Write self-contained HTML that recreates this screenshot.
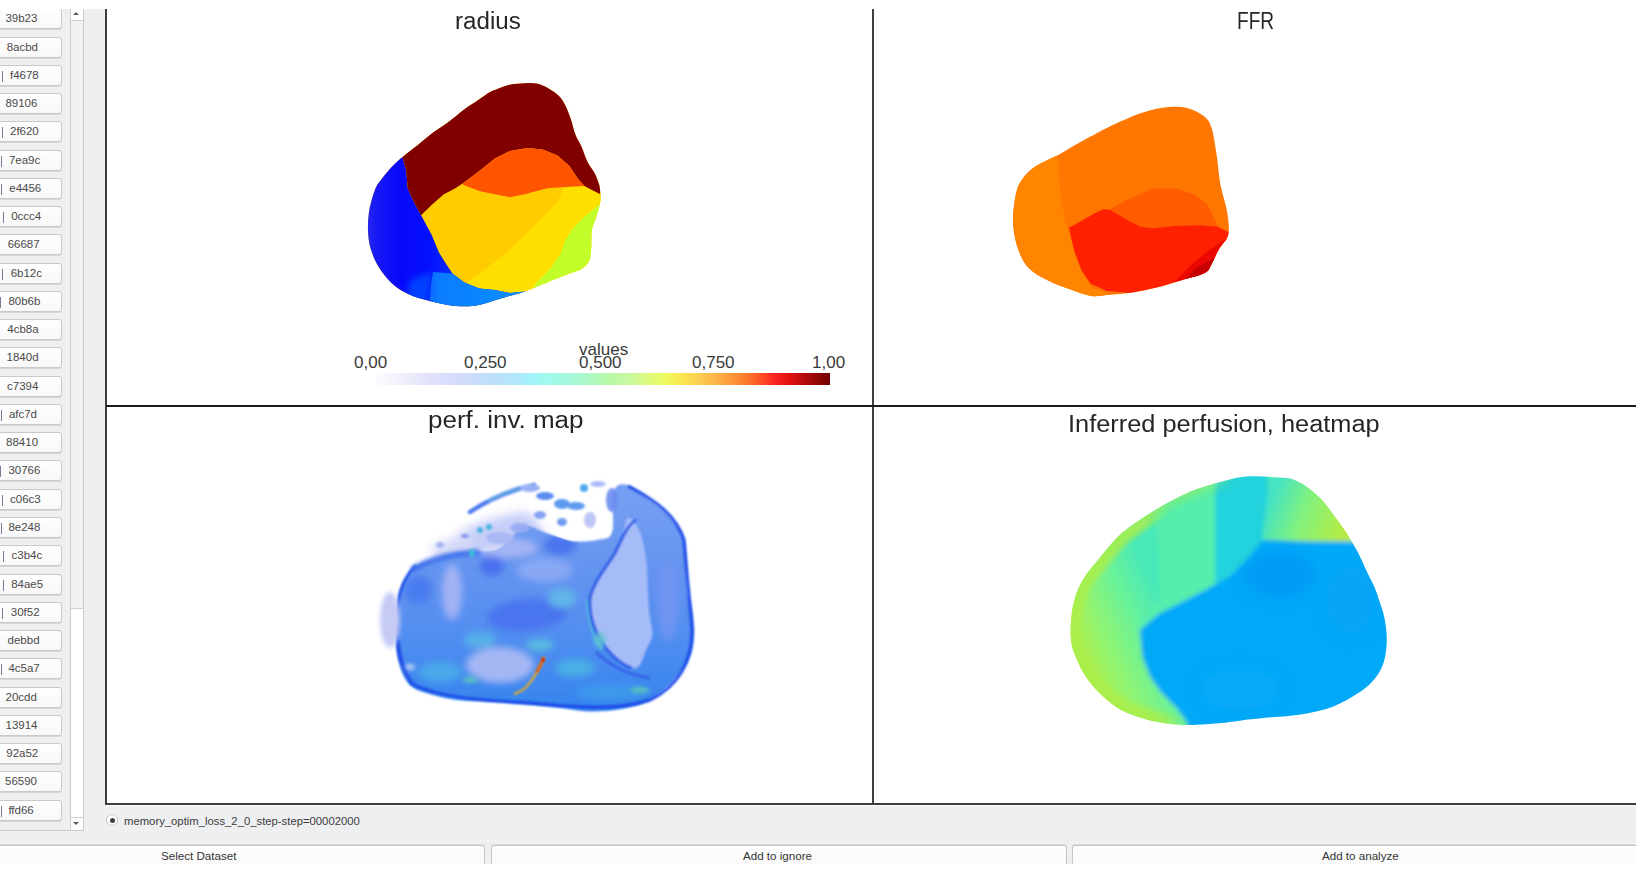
<!DOCTYPE html>
<html><head><meta charset="utf-8"><style>
*{box-sizing:border-box;margin:0;padding:0}
html,body{width:1636px;height:872px;overflow:hidden;background:#fff;font-family:"Liberation Sans",sans-serif}
#app{position:absolute;left:0;top:9px;width:1636px;height:855px;background:#eeeff1}
.sb{position:absolute;left:-40px;width:102px;height:21px;border:1px solid #c9c9cb;border-radius:3px;background:linear-gradient(#fefefe,#f8f8f8);box-shadow:0 1px 0 #d6d7d9}
.st{position:absolute;top:3px;margin-left:38.7px;font-size:11.5px;color:#4a4a4a;letter-spacing:0px;white-space:nowrap}
.bar{position:absolute;top:5px;margin-left:39px;width:1px;height:11px;background:#7a7a96}
#topw{position:absolute;left:0;top:0;width:1636px;height:9px;background:#fff;z-index:5}
#scroll{position:absolute;left:70px;top:8px;width:14px;height:823px;border:1px solid #cbcbcd;background:#fff}
#sthumb{position:absolute;left:0;top:12px;width:12px;height:588px;background:#f1f1f1;border-bottom:1px solid #cfcfcf}
#sup{position:absolute;left:0;top:0;width:12px;height:12px;background:#fff;border-bottom:1px solid #d0d0d0}
#sdn{position:absolute;left:0;bottom:0;width:12px;height:13px;background:#fff;border-top:1px solid #d0d0d0}
.tri{position:absolute;left:2px;width:0;height:0;border-left:4px solid transparent;border-right:4px solid transparent}
#panels{position:absolute;left:105px;top:9px;width:1540px;height:796px;box-shadow:0 1px 0 #fafbfc;background:#fff;border-left:2px solid #3c3c3c;border-bottom:2px solid #3c3c3c}
#vline{position:absolute;left:872px;top:9px;width:2px;height:795px;background:#3f3f3f}
#hline{position:absolute;left:106px;top:405px;width:1530px;height:2px;background:#1c1c1c}
.title{position:absolute;transform-origin:0 0;font-size:23px;color:#262626;white-space:nowrap}
.lbl{position:absolute;font-size:17px;color:#3a3a3a;white-space:nowrap}
#radio{position:absolute;left:106px;top:814px;width:12px;height:12px;border-radius:50%;background:#fff;border:1px solid #c4c4c4}
#radio::after{content:"";position:absolute;left:2.5px;top:2.5px;width:5px;height:5px;border-radius:50%;background:#3c3c3c}
#rtext{position:absolute;left:124px;top:814.5px;font-size:11.3px;color:#3c3c3c;white-space:nowrap}
.bb{position:absolute;top:845px;height:22px;border:1px solid #c6c6c8;border-top-color:#c2c2c4;box-shadow:0 -1px 0 #dcdcde;border-radius:3px;background:linear-gradient(#fefefe,#f9f9f9)}
.bt{position:absolute;top:849px;font-size:11.6px;color:#333;white-space:nowrap}
#botw{position:absolute;left:0;top:864px;width:1636px;height:8px;background:#fff;z-index:5}
svg{position:absolute;left:0;top:0}
#cbar{position:absolute;left:376px;top:373px;width:454px;height:12px;background:linear-gradient(90deg,#fafafe 0%,#f2f2fc 5%,#e2e2fc 11.6%,#d8dcfc 16.4%,#ccdcfa 21.3%,#bce0fa 26.1%,#b0e8fa 31%,#a4f2fa 34.2%,#a0faee 37.4%,#a4f8dc 42.2%,#acf8c4 47.1%,#b8f8a8 51.3%,#c8f8a0 55.7%,#eefa60 63.8%,#fce850 67%,#fcc850 71.9%,#fca640 76.7%,#fc7a2c 81.6%,#fc5024 84.8%,#fc2020 88%,#e01010 91.2%,#a00808 96%,#700000 100%)}
</style></head><body>
<div id="app"></div>
<div class="sb" style="top:8.24px"><span class="st" style="left:5.7px">39b23</span></div>
<div class="sb" style="top:36.51px"><span class="st" style="left:7.0px">8acbd</span></div>
<div class="sb" style="top:64.77px"><span class="st" style="left:10.3px">f4678</span><span class="bar" style="left:1.8px"></span></div>
<div class="sb" style="top:93.03px"><span class="st" style="left:5.7px">89106</span></div>
<div class="sb" style="top:121.30px"><span class="st" style="left:10.3px">2f620</span><span class="bar" style="left:1.8px"></span></div>
<div class="sb" style="top:149.56px"><span class="st" style="left:9.2px">7ea9c</span><span class="bar" style="left:0.5px"></span></div>
<div class="sb" style="top:177.83px"><span class="st" style="left:9.6px">e4456</span><span class="bar" style="left:0.5px"></span></div>
<div class="sb" style="top:206.10px"><span class="st" style="left:11.5px">0ccc4</span><span class="bar" style="left:2.7px"></span></div>
<div class="sb" style="top:234.36px"><span class="st" style="left:8.0px">66687</span></div>
<div class="sb" style="top:262.62px"><span class="st" style="left:11.0px">6b12c</span><span class="bar" style="left:2.3px"></span></div>
<div class="sb" style="top:290.89px"><span class="st" style="left:8.7px">80b6b</span><span class="bar" style="left:0.0px"></span></div>
<div class="sb" style="top:319.16px"><span class="st" style="left:7.6px">4cb8a</span></div>
<div class="sb" style="top:347.42px"><span class="st" style="left:6.9px">1840d</span></div>
<div class="sb" style="top:375.69px"><span class="st" style="left:7.3px">c7394</span></div>
<div class="sb" style="top:403.95px"><span class="st" style="left:9.2px">afc7d</span><span class="bar" style="left:0.5px"></span></div>
<div class="sb" style="top:432.22px"><span class="st" style="left:6.4px">88410</span></div>
<div class="sb" style="top:460.48px"><span class="st" style="left:8.7px">30766</span><span class="bar" style="left:0.2px"></span></div>
<div class="sb" style="top:488.75px"><span class="st" style="left:10.3px">c06c3</span><span class="bar" style="left:1.8px"></span></div>
<div class="sb" style="top:517.01px"><span class="st" style="left:8.7px">8e248</span><span class="bar" style="left:0.5px"></span></div>
<div class="sb" style="top:545.27px"><span class="st" style="left:11.9px">c3b4c</span><span class="bar" style="left:3.2px"></span></div>
<div class="sb" style="top:573.54px"><span class="st" style="left:11.5px">84ae5</span><span class="bar" style="left:3.2px"></span></div>
<div class="sb" style="top:601.81px"><span class="st" style="left:11.1px">30f52</span><span class="bar" style="left:2.1px"></span></div>
<div class="sb" style="top:630.07px"><span class="st" style="left:7.9px">debbd</span></div>
<div class="sb" style="top:658.34px"><span class="st" style="left:8.7px">4c5a7</span><span class="bar" style="left:0.5px"></span></div>
<div class="sb" style="top:686.60px"><span class="st" style="left:5.8px">20cdd</span></div>
<div class="sb" style="top:714.87px"><span class="st" style="left:5.8px">13914</span></div>
<div class="sb" style="top:743.13px"><span class="st" style="left:6.6px">92a52</span></div>
<div class="sb" style="top:771.39px"><span class="st" style="left:5.3px">56590</span></div>
<div class="sb" style="top:799.66px"><span class="st" style="left:8.7px">ffd66</span><span class="bar" style="left:0.5px"></span></div>
<div style="position:absolute;left:0;top:830px;width:71px;height:1px;background:#cbcbcd"></div>
<div id="scroll"><div id="sthumb"></div><div id="sup"><div class="tri" style="top:2.8px;left:2px;border-left:3.5px solid transparent;border-right:3.5px solid transparent;border-bottom:3.5px solid #5a5a5a"></div></div><div id="sdn"><div class="tri" style="top:4px;left:2px;border-left:3.5px solid transparent;border-right:3.5px solid transparent;border-top:3.5px solid #5a5a5a"></div></div></div>
<div id="panels"></div>
<svg width="1636" height="872" viewBox="0 0 1636 872">
<defs><filter id="rsoft" x="-30%" y="-30%" width="160%" height="160%"><feGaussianBlur stdDeviation="3"/></filter><clipPath id="rc"><path d="M402.5,157.0 C406.1,154.1 414.3,147.8 419.6,143.6 C424.9,139.4 429.5,135.3 434.5,131.6 C439.5,127.9 444.4,124.9 449.4,121.2 C454.4,117.5 459.7,112.8 464.4,109.3 C469.1,105.8 473.5,103.2 477.8,100.3 C482.1,97.4 487.1,93.8 490.0,92.1 C492.9,90.4 491.6,91.1 494.9,89.9 C498.2,88.7 504.8,85.8 509.8,84.7 C514.8,83.6 520.2,83.4 524.7,83.2 C529.2,83.0 532.6,82.7 536.6,83.6 C540.6,84.5 544.9,86.4 548.6,88.4 C552.3,90.5 556.3,93.2 559.0,95.9 C561.7,98.6 563.0,100.8 565.0,104.8 C567.0,108.8 569.3,114.7 571.0,119.7 C572.7,124.7 573.7,130.1 575.4,134.6 C577.1,139.1 579.4,142.1 581.4,146.6 C583.4,151.1 585.1,157.0 587.3,161.5 C589.5,166.0 592.8,169.4 594.8,173.4 C596.8,177.4 598.4,181.8 599.3,185.3 C600.2,188.8 600.1,191.5 600.3,194.3 C600.5,197.1 601.0,198.2 600.3,201.9 C599.6,205.7 597.7,212.1 596.3,216.8 C594.9,221.5 592.7,224.8 591.8,230.3 C590.9,235.8 591.6,244.4 591.1,249.6 C590.6,254.8 590.4,258.4 588.8,261.6 C587.2,264.8 584.6,267.0 581.4,269.0 C578.2,271.0 575.1,271.3 569.4,273.5 C563.7,275.7 554.5,279.4 547.1,282.4 C539.7,285.4 530.9,289.2 524.7,291.4 C518.5,293.6 514.8,294.3 509.8,295.8 C504.8,297.3 499.9,298.8 494.9,300.3 C489.9,301.8 485.1,303.8 480.0,304.8 C474.9,305.8 470.0,306.3 464.4,306.3 C458.8,306.3 452.7,305.8 446.5,304.8 C440.3,303.8 433.3,302.0 427.1,300.3 C420.9,298.6 414.7,296.9 409.2,294.4 C403.7,291.9 399.0,289.4 394.3,285.4 C389.6,281.4 384.6,276.0 380.9,270.5 C377.2,265.0 374.0,258.6 371.9,252.6 C369.8,246.6 368.7,241.4 368.2,234.7 C367.7,228.0 367.8,219.8 368.9,212.4 C370.0,205.0 372.8,195.5 374.9,190.0 C377.0,184.5 378.9,182.8 381.4,179.3 C383.9,175.8 387.1,171.9 389.8,168.9 C392.5,165.9 395.6,163.2 397.7,161.2 C399.8,159.2 398.9,159.9 402.5,157.0 Z"/></clipPath>
<linearGradient id="rbg" gradientUnits="userSpaceOnUse" x1="366" y1="0" x2="450" y2="0"><stop offset="0" stop-color="#2a2af0"/><stop offset="0.12" stop-color="#1818f4"/><stop offset="0.4" stop-color="#0808fa"/><stop offset="0.75" stop-color="#0410fe"/><stop offset="1" stop-color="#0428ff"/></linearGradient>
<linearGradient id="rlb" gradientUnits="userSpaceOnUse" x1="428" y1="0" x2="520" y2="0"><stop offset="0" stop-color="#0a66ff"/><stop offset="0.12" stop-color="#0a7cff"/><stop offset="0.6" stop-color="#0a86ff"/><stop offset="1" stop-color="#0c90ff"/></linearGradient>
</defs>
<g clip-path="url(#rc)">
<rect x="360" y="80" width="250" height="230" fill="#ffcc00"/>
<polygon points="563.0,186.5 600.0,180.0 620.0,190.0 620.0,320.0 460.0,320.0 467.3,281.0 480.0,273.5 494.9,261.6 509.8,249.6 524.7,234.7 539.6,219.8 556.0,203.4 560.5,196.0" fill="#ffdf00"/>
<polygon points="600.3,203.4 584.4,216.8 572.4,228.8 565.0,240.7 560.5,254.1 550.0,269.0 536.6,282.4 528.0,296.0 620.0,300.0 620.0,195.0" fill="#c4fe2a"/>
<polygon points="395.0,145.0 402.5,157.0 406.2,170.4 407.7,188.3 413.7,201.7 421.1,215.3 431.6,234.7 439.0,252.6 446.5,264.5 452.4,273.5 464.4,282.4 479.3,288.4 494.9,289.9 509.8,292.9 530.0,291.0 540.0,320.0 350.0,320.0 350.0,145.0" fill="url(#rbg)"/>
<polygon points="410,280 433,272 431,285 429,310 405,305" fill="#0440ff" filter="url(#rsoft)"/>
<polygon points="433.0,272.0 431.0,285.0 429.0,310.0 540.0,310.0 530.0,291.0 509.8,292.9 494.9,289.9 479.3,288.4 464.4,282.4 452.4,273.5" fill="url(#rlb)"/>
<polygon points="390.0,150.0 395.0,70.0 620.0,70.0 620.0,200.0 600.3,194.3 592.0,190.0 584.4,186.1 578.4,179.4 569.4,166.0 557.5,155.5 542.6,149.5 527.7,148.0 509.8,151.0 494.9,158.5 480.0,170.4 464.4,182.3 455.4,188.3 443.5,194.5 431.6,204.9 421.1,215.3 413.7,201.7 407.7,188.3 406.2,170.4 402.5,157.0" fill="#800000"/>
<polygon points="462.0,184.0 480.0,170.4 494.9,158.5 509.8,151.0 527.7,148.0 542.6,149.5 557.5,155.5 569.4,166.0 578.4,179.4 584.4,186.1 569.4,186.8 547.1,188.3 524.7,194.3 509.8,197.2 494.9,194.3 480.0,191.3 466.0,186.0" fill="#ff5500"/>
</g>
<defs><clipPath id="fc"><path d="M1057.8,155.2 C1062.2,152.9 1065.8,150.4 1072.2,146.8 C1078.6,143.2 1088.3,137.7 1096.3,133.5 C1104.3,129.3 1112.4,125.1 1120.4,121.5 C1128.4,117.9 1136.4,114.3 1144.4,111.9 C1152.4,109.5 1161.3,107.6 1168.5,107.0 C1175.7,106.4 1181.8,106.6 1187.8,108.2 C1193.8,109.8 1200.6,113.3 1204.6,116.7 C1208.6,120.1 1209.8,122.3 1211.8,128.7 C1213.8,135.1 1215.3,146.0 1216.7,155.2 C1218.1,164.4 1218.7,175.3 1220.3,184.1 C1221.9,192.9 1224.9,201.3 1226.3,208.1 C1227.7,214.9 1228.5,220.2 1228.7,225.0 C1228.9,229.8 1229.1,233.0 1227.5,237.0 C1225.9,241.0 1221.6,244.6 1219.0,249.0 C1216.4,253.4 1214.2,259.5 1211.8,263.5 C1209.4,267.5 1209.8,270.3 1204.6,273.1 C1199.4,275.9 1188.5,278.0 1180.5,280.4 C1172.5,282.8 1164.5,285.6 1156.5,287.6 C1148.5,289.6 1140.4,291.2 1132.4,292.4 C1124.4,293.6 1115.1,294.2 1108.3,294.8 C1101.5,295.4 1097.5,296.8 1091.5,296.0 C1085.5,295.2 1079.4,292.6 1072.2,290.0 C1065.0,287.4 1055.3,284.0 1048.1,280.4 C1040.9,276.8 1033.9,273.5 1028.9,268.3 C1023.9,263.1 1020.7,256.3 1018.1,249.1 C1015.5,241.9 1013.8,232.6 1013.2,225.0 C1012.6,217.4 1013.4,210.1 1014.4,203.3 C1015.4,196.5 1016.5,189.7 1019.3,184.1 C1022.1,178.5 1026.8,173.5 1031.3,169.6 C1035.8,165.7 1041.7,163.2 1046.1,160.8 C1050.5,158.4 1053.4,157.5 1057.8,155.2 Z"/></clipPath></defs>
<g clip-path="url(#fc)">
<rect x="1005" y="100" width="230" height="200" fill="#ff7600"/>
<polygon points="1057.8,155.2 1060.2,191.3 1065.0,220.2 1072.2,244.3 1081.8,273.1 1092.0,288.0 1112.0,295.0 1135.0,300.0 1000.0,300.0 1000.0,150.0" fill="#ff8400"/>
<polygon points="1109.5,209.3 1127.8,199.6 1152.2,188.6 1176.7,188.6 1195.0,194.7 1207.3,204.4 1213.4,216.7 1218.3,226.5 1201.0,225.2 1176.7,225.8 1152.2,228.3 1140.0,226.5 1127.8,220.3 1115.6,213.0" fill="#ff5c00"/>
<polygon points="1069.0,227.7 1082.6,220.3 1095.0,213.0 1103.3,209.3 1109.5,209.8 1115.6,213.0 1127.8,220.3 1140.0,226.5 1152.2,228.3 1176.7,225.8 1201.0,225.2 1217.0,226.5 1230.0,232.6 1235.0,300.0 1140.0,300.0 1126.0,292.6 1107.0,291.0 1090.6,283.8 1081.3,269.8 1074.3,251.2" fill="#ff2000"/>
<polygon points="1235.0,234.0 1221.0,242.0 1209.4,250.0 1192.6,263.5 1173.3,283.0 1235.0,290.0" fill="#ea0800"/>
<polygon points="1214.0,258.0 1196.0,268.0 1182.0,282.0 1215.0,282.0" fill="#c80000"/>
</g>
<defs>
<filter id="pb" x="-10%" y="-10%" width="120%" height="120%"><feGaussianBlur stdDeviation="1.3"/></filter>
<filter id="pb2" x="-30%" y="-30%" width="160%" height="160%"><feGaussianBlur stdDeviation="3.5"/></filter>
<filter id="pb3" x="-30%" y="-30%" width="160%" height="160%"><feGaussianBlur stdDeviation="2"/></filter>
<filter id="pb4" x="-30%" y="-30%" width="160%" height="160%"><feGaussianBlur stdDeviation="5"/></filter>
<clipPath id="pcl"><path d="M397.0,605.0 C397.7,597.4 398.5,593.7 400.0,589.0 C401.5,584.3 403.6,580.7 406.0,577.0 C408.4,573.3 409.0,570.1 414.7,566.9 C420.4,563.7 432.5,560.2 440.0,558.0 C447.5,555.8 452.8,554.5 459.5,553.5 C466.2,552.5 473.8,552.5 480.0,552.0 C486.2,551.5 491.8,552.5 496.8,550.5 C501.8,548.5 506.3,543.5 510.0,540.0 C513.7,536.5 515.7,531.8 519.0,529.6 C522.3,527.4 525.7,526.2 530.0,526.7 C534.3,527.2 540.0,530.7 545.0,532.6 C550.0,534.5 555.0,536.5 560.0,538.0 C565.0,539.5 568.5,541.3 574.7,541.6 C580.9,541.9 590.8,541.5 597.0,540.0 C603.2,538.5 609.2,540.5 612.0,532.6 C614.8,524.7 611.0,500.3 613.5,492.4 C616.0,484.5 620.3,483.3 627.0,485.0 C633.7,486.7 646.3,497.1 653.8,502.8 C661.2,508.5 666.7,513.5 671.7,519.2 C676.7,524.9 681.1,530.4 683.6,537.1 C686.1,543.8 685.9,550.7 686.6,559.5 C687.3,568.3 687.0,581.2 688.0,590.0 C689.0,598.8 691.5,604.9 692.5,612.4 C693.5,619.9 694.2,627.8 694.0,634.7 C693.8,641.7 693.0,648.1 691.0,654.1 C689.0,660.1 686.1,665.0 682.1,670.5 C678.1,676.0 673.2,681.7 667.2,686.9 C661.2,692.1 654.2,698.1 646.3,701.8 C638.3,705.5 629.0,707.7 619.5,709.3 C610.0,710.9 599.6,711.8 589.6,711.5 C579.6,711.2 569.7,708.9 559.8,707.8 C549.9,706.7 541.8,705.8 530.0,704.8 C518.2,703.8 501.1,702.5 489.3,701.8 C477.6,701.0 468.2,701.3 459.5,700.3 C450.8,699.3 444.6,697.9 437.1,695.9 C429.6,693.9 420.2,691.5 414.7,688.4 C409.2,685.2 406.8,682.1 404.0,677.0 C401.2,671.9 399.3,665.0 398.0,658.0 C396.7,651.0 396.2,643.5 396.0,634.7 C395.8,625.9 396.3,612.6 397.0,605.0 Z"/></clipPath>
<linearGradient id="pgv" x1="0" y1="0" x2="0" y2="1"><stop offset="0" stop-color="#76a0f2"/><stop offset="0.45" stop-color="#6092f0"/><stop offset="0.75" stop-color="#4a8cf0"/><stop offset="1" stop-color="#3484ee"/></linearGradient>
</defs>
<g filter="url(#pb4)" opacity="0.75">
<path d="M455,535 C475,522 500,515 525,512 C535,515 540,525 545,535 L540,545 L470,556 Z" fill="#b4bef6"/>
<path d="M430,548 C445,540 460,535 470,532 L472,556 L440,562 Z" fill="#c8cef6"/>
</g>
<g filter="url(#pb)">
<path d="M397.0,605.0 C397.7,597.4 398.5,593.7 400.0,589.0 C401.5,584.3 403.6,580.7 406.0,577.0 C408.4,573.3 409.0,570.1 414.7,566.9 C420.4,563.7 432.5,560.2 440.0,558.0 C447.5,555.8 452.8,554.5 459.5,553.5 C466.2,552.5 473.8,552.5 480.0,552.0 C486.2,551.5 491.8,552.5 496.8,550.5 C501.8,548.5 506.3,543.5 510.0,540.0 C513.7,536.5 515.7,531.8 519.0,529.6 C522.3,527.4 525.7,526.2 530.0,526.7 C534.3,527.2 540.0,530.7 545.0,532.6 C550.0,534.5 555.0,536.5 560.0,538.0 C565.0,539.5 568.5,541.3 574.7,541.6 C580.9,541.9 590.8,541.5 597.0,540.0 C603.2,538.5 609.2,540.5 612.0,532.6 C614.8,524.7 611.0,500.3 613.5,492.4 C616.0,484.5 620.3,483.3 627.0,485.0 C633.7,486.7 646.3,497.1 653.8,502.8 C661.2,508.5 666.7,513.5 671.7,519.2 C676.7,524.9 681.1,530.4 683.6,537.1 C686.1,543.8 685.9,550.7 686.6,559.5 C687.3,568.3 687.0,581.2 688.0,590.0 C689.0,598.8 691.5,604.9 692.5,612.4 C693.5,619.9 694.2,627.8 694.0,634.7 C693.8,641.7 693.0,648.1 691.0,654.1 C689.0,660.1 686.1,665.0 682.1,670.5 C678.1,676.0 673.2,681.7 667.2,686.9 C661.2,692.1 654.2,698.1 646.3,701.8 C638.3,705.5 629.0,707.7 619.5,709.3 C610.0,710.9 599.6,711.8 589.6,711.5 C579.6,711.2 569.7,708.9 559.8,707.8 C549.9,706.7 541.8,705.8 530.0,704.8 C518.2,703.8 501.1,702.5 489.3,701.8 C477.6,701.0 468.2,701.3 459.5,700.3 C450.8,699.3 444.6,697.9 437.1,695.9 C429.6,693.9 420.2,691.5 414.7,688.4 C409.2,685.2 406.8,682.1 404.0,677.0 C401.2,671.9 399.3,665.0 398.0,658.0 C396.7,651.0 396.2,643.5 396.0,634.7 C395.8,625.9 396.3,612.6 397.0,605.0 Z" fill="url(#pgv)"/>
</g>
<g clip-path="url(#pcl)">
<g filter="url(#pb2)">
<ellipse cx="452" cy="592" rx="10" ry="28" fill="#a2b2f4"/>
<ellipse cx="545" cy="570" rx="28" ry="12" fill="#88a8f4"/>
<ellipse cx="508" cy="548" rx="30" ry="10" fill="#a4b4f4"/>
<ellipse cx="560" cy="545" rx="16" ry="10" fill="#4a74ee"/>
<ellipse cx="500" cy="665" rx="34" ry="18" fill="#a4b6f4"/>
<ellipse cx="527" cy="615" rx="40" ry="16" fill="#4874ee" transform="rotate(-5 527 615)"/>
<ellipse cx="492" cy="566" rx="12" ry="10" fill="#4870ee"/>
<ellipse cx="418" cy="590" rx="14" ry="14" fill="#4a7cee"/>
<ellipse cx="440" cy="672" rx="22" ry="10" fill="#4aa8ea"/>
<ellipse cx="575" cy="668" rx="20" ry="9" fill="#4aaee6"/>
<ellipse cx="610" cy="692" rx="34" ry="8" fill="#3e98ec"/>
<ellipse cx="668" cy="600" rx="11" ry="42" fill="#6e94f2"/>
<ellipse cx="562" cy="598" rx="14" ry="10" fill="#60b6e8"/>
<ellipse cx="480" cy="640" rx="16" ry="8" fill="#58b0e8"/>
<ellipse cx="540" cy="645" rx="14" ry="6" fill="#5cbce0"/>
</g>
</g>
<g filter="url(#pb)">
<path d="M398,640 C399,655 403,670 412,684 C440,698 480,700 530,703 C580,708 620,710 650,700 C680,685 692,660 692,630 C690,600 686,570 684,540 C676,515 655,500 628,486" fill="none" stroke="#1c48e8" stroke-width="3"/>
<path d="M416,565 C406,575 400,588 398,605 C396,625 396,645 400,660 C404,672 410,682 418,688" fill="none" stroke="#2450e8" stroke-width="2.5"/>
<path d="M627.0,519.0 C624.6,522.8 623.2,536.6 619.5,544.6 C615.8,552.6 609.1,560.0 604.6,567.0 C600.1,574.0 595.1,580.8 592.6,586.3 C590.1,591.8 590.1,595.6 589.6,600.0 C589.1,604.4 588.4,607.1 589.6,612.4 C590.9,617.7 593.4,624.6 597.1,631.8 C600.8,639.0 607.0,649.6 612.0,655.6 C617.0,661.6 622.4,665.8 626.9,667.5 C631.4,669.2 635.7,669.1 638.9,666.1 C642.1,663.1 644.1,654.8 646.3,649.6 C648.5,644.4 651.8,640.9 652.3,634.7 C652.8,628.5 650.0,619.9 649.3,612.4 C648.5,604.9 648.3,598.7 647.8,590.0 C647.3,581.3 647.4,569.2 646.3,560.0 C645.2,550.8 643.0,541.3 641.0,535.0 C639.0,528.7 636.3,524.7 634.0,522.0 C631.7,519.3 629.4,515.2 627.0,519.0 Z" fill="#a6bcf8"/>
<path d="M636,520 C626,526 622,540 614,555 C604,570 594,582 590,598 C589,615 594,632 606,648 C614,658 622,665 632,668" fill="none" stroke="#2c5ce6" stroke-width="3"/>
<path d="M587,600 C587,620 592,636 602,650" fill="none" stroke="#50c0d8" stroke-width="1.5"/>
<path d="M596,652 C610,666 628,675 650,678" fill="none" stroke="#3464e8" stroke-width="3"/>
</g>
<g filter="url(#pb3)">
<ellipse cx="390" cy="620" rx="10" ry="28" fill="#c6cbf6"/>
<path d="M412,570 C430,558 455,553 480,552" stroke="#3468ec" stroke-width="5" fill="none"/>
</g>
<g filter="url(#pb)" opacity="0.9">
<path d="M470,512 Q500,492 534,485" stroke="#3a6aee" stroke-width="4.5" stroke-linecap="round" fill="none"/><path d="M488,501 Q505,492 522,488" stroke="#50b8d8" stroke-width="1.5" fill="none"/>
<ellipse cx="545" cy="496" rx="9" ry="4" fill="#4a80ee"/>
<ellipse cx="562" cy="504" rx="8" ry="5" fill="#4a90ee"/>
<ellipse cx="584" cy="488" rx="4" ry="4" fill="#40a0e8"/>
<ellipse cx="576" cy="506" rx="9" ry="4" fill="#5090ee"/>
<ellipse cx="562" cy="522" rx="5" ry="4" fill="#6090ee"/>
<ellipse cx="540" cy="515" rx="6" ry="4" fill="#7c98f2"/>
<ellipse cx="520" cy="528" rx="10" ry="5" fill="#98aaf4"/>
<ellipse cx="500" cy="538" rx="14" ry="6" fill="#a8b6f4"/>
<ellipse cx="465" cy="536" rx="4" ry="2" fill="#8090f0"/>
<ellipse cx="472" cy="553" rx="3" ry="4" fill="#40c0d8"/>
<ellipse cx="530" cy="488" rx="10" ry="4" fill="#90a8f4"/>
<ellipse cx="598" cy="484" rx="8" ry="3" fill="#a8b4f6"/>
<ellipse cx="590" cy="520" rx="6" ry="8" fill="#b8c0f6"/>
<ellipse cx="440" cy="545" rx="4" ry="3" fill="#a0b0f4"/>
<ellipse cx="612" cy="500" rx="6" ry="12" fill="#6c8cf0"/>
<ellipse cx="480" cy="530" rx="3" ry="3" fill="#40b0e0"/>
<ellipse cx="489" cy="527" rx="3" ry="3" fill="#40b0e0"/>
</g>
<g filter="url(#pb3)" opacity="0.8">
<ellipse cx="410" cy="667" rx="5" ry="3" fill="#e0e4f8"/>
<ellipse cx="470" cy="680" rx="8" ry="3" fill="#60d0b0"/>
<ellipse cx="640" cy="690" rx="10" ry="3" fill="#60d0b0"/>
<ellipse cx="600" cy="640" rx="6" ry="8" fill="#60c8d0"/>
</g>
<path d="M544,657 C541,666 535,676 529,684 C525,689 520,692 514,694" stroke="#d8a838" stroke-width="2.4" fill="none" filter="url(#pb)"/>
<path d="M544,657 C542,663 539,668 536,673" stroke="#d85828" stroke-width="2.4" fill="none" filter="url(#pb)"/>
<circle cx="543" cy="660" r="2" fill="#c03018" filter="url(#pb)"/>

<defs><clipPath id="hc"><path d="M1244.4,476.7 C1254.7,475.7 1268.8,477.0 1276.8,477.4 C1284.8,477.8 1286.8,477.2 1292.1,479.0 C1297.4,480.8 1303.5,484.4 1308.5,487.9 C1313.5,491.4 1317.9,495.6 1321.9,499.8 C1325.9,504.0 1328.7,508.2 1332.4,513.2 C1336.1,518.2 1341.1,524.9 1344.3,529.6 C1347.5,534.3 1349.2,537.4 1351.7,541.6 C1354.2,545.8 1356.7,550.0 1359.2,555.0 C1361.7,560.0 1364.2,566.2 1366.7,571.4 C1369.2,576.6 1371.9,581.2 1374.1,586.3 C1376.2,591.3 1377.9,596.4 1379.6,601.7 C1381.3,607.0 1383.3,611.6 1384.5,618.2 C1385.7,624.8 1387.1,633.6 1386.8,641.4 C1386.5,649.1 1385.4,658.0 1382.9,664.7 C1380.5,671.4 1376.5,676.8 1372.1,681.7 C1367.7,686.6 1363.0,690.0 1356.6,694.1 C1350.1,698.2 1342.4,703.1 1333.4,706.5 C1324.4,709.9 1312.7,712.4 1302.4,714.2 C1292.1,716.0 1280.4,716.4 1271.4,717.3 C1262.4,718.2 1255.9,718.7 1248.2,719.6 C1240.5,720.5 1234.9,721.8 1225.0,722.7 C1215.1,723.6 1197.5,724.8 1188.9,725.1 C1180.3,725.4 1179.9,725.1 1173.4,724.3 C1167.0,723.5 1158.0,722.3 1150.2,720.4 C1142.5,718.5 1133.4,715.5 1126.9,712.7 C1120.4,709.9 1116.6,707.3 1111.4,703.4 C1106.2,699.5 1100.4,694.0 1096.0,689.4 C1091.6,684.8 1088.5,680.9 1085.1,675.5 C1081.7,670.1 1078.1,662.6 1075.8,656.9 C1073.5,651.2 1072.0,647.8 1071.2,641.4 C1070.4,635.0 1070.5,625.8 1071.2,618.2 C1071.9,610.6 1073.4,602.7 1075.5,596.0 C1077.6,589.3 1080.4,583.8 1084.0,578.0 C1087.6,572.2 1090.9,568.5 1097.2,561.0 C1103.5,553.5 1112.6,541.4 1121.9,533.1 C1131.2,524.9 1142.6,518.0 1152.9,511.5 C1163.2,505.1 1173.6,499.0 1183.9,494.4 C1194.2,489.8 1204.7,486.6 1214.8,483.6 C1224.9,480.7 1234.1,477.7 1244.4,476.7 Z"/></clipPath>
<filter id="hmb" x="-20%" y="-20%" width="140%" height="140%"><feGaussianBlur stdDeviation="8"/></filter><mask id="hleft" maskUnits="userSpaceOnUse" x="1000" y="440" width="420" height="320"><polygon points="1040,440 1225,440 1225,478 1160,505 1138,625 1140,660 1158,700 1185,740 1040,740" fill="#fff" filter="url(#hmb)"/></mask>
<filter id="hb" x="-10%" y="-10%" width="120%" height="120%"><feGaussianBlur stdDeviation="2.5"/></filter>
<filter id="hb6" x="-30%" y="-30%" width="160%" height="160%"><feGaussianBlur stdDeviation="7"/></filter>
<filter id="hb1" x="-10%" y="-10%" width="120%" height="120%"><feGaussianBlur stdDeviation="2.2"/></filter>
<linearGradient id="hgl" gradientUnits="userSpaceOnUse" x1="1072" y1="640" x2="1160" y2="600"><stop offset="0" stop-color="#b0ee48"/><stop offset="0.3" stop-color="#92f470"/><stop offset="0.7" stop-color="#66f29c"/><stop offset="1" stop-color="#4ae8b8"/></linearGradient>
<linearGradient id="hyg" gradientUnits="userSpaceOnUse" x1="1270" y1="500" x2="1345" y2="530"><stop offset="0" stop-color="#44e2c4"/><stop offset="0.45" stop-color="#82f27c"/><stop offset="1" stop-color="#b6ea42"/></linearGradient>
</defs>
<g clip-path="url(#hc)">
<g filter="url(#hb1)">
<rect x="1060" y="470" width="340" height="260" fill="url(#hgl)"/>
<polygon points="1155.0,505.0 1215.0,470.0 1215.0,600.0 1160.0,613.0 1140.0,630.0 1140.0,620.0 1160.0,600.0 1160.0,560.0" fill="#56eeac"/>
<polygon points="1215.0,470.0 1268.0,470.0 1268.0,492.0 1262.3,540.1 1250.0,556.0 1230.3,576.0 1215.0,584.0" fill="#22d2dc"/>
<polygon points="1276.0,470.0 1268.2,492.4 1262.3,540.1 1314.5,541.6 1356.0,541.6 1356.0,470.0" fill="url(#hyg)"/>
<polygon points="1140.0,630.0 1160.0,613.0 1183.9,601.0 1205.0,590.0 1230.3,576.0 1250.0,556.0 1262.3,540.1 1314.5,541.6 1355.0,541.6 1400.0,541.0 1400.0,740.0 1187.3,730.0 1187.3,723.5 1176.5,708.0 1161.0,692.5 1150.2,677.1 1142.4,656.9 1140.9,641.4" fill="#06a8f8"/>
</g>
<g mask="url(#hleft)"><path d="M1244.4,476.7 C1254.7,475.7 1268.8,477.0 1276.8,477.4 C1284.8,477.8 1286.8,477.2 1292.1,479.0 C1297.4,480.8 1303.5,484.4 1308.5,487.9 C1313.5,491.4 1317.9,495.6 1321.9,499.8 C1325.9,504.0 1328.7,508.2 1332.4,513.2 C1336.1,518.2 1341.1,524.9 1344.3,529.6 C1347.5,534.3 1349.2,537.4 1351.7,541.6 C1354.2,545.8 1356.7,550.0 1359.2,555.0 C1361.7,560.0 1364.2,566.2 1366.7,571.4 C1369.2,576.6 1371.9,581.2 1374.1,586.3 C1376.2,591.3 1377.9,596.4 1379.6,601.7 C1381.3,607.0 1383.3,611.6 1384.5,618.2 C1385.7,624.8 1387.1,633.6 1386.8,641.4 C1386.5,649.1 1385.4,658.0 1382.9,664.7 C1380.5,671.4 1376.5,676.8 1372.1,681.7 C1367.7,686.6 1363.0,690.0 1356.6,694.1 C1350.1,698.2 1342.4,703.1 1333.4,706.5 C1324.4,709.9 1312.7,712.4 1302.4,714.2 C1292.1,716.0 1280.4,716.4 1271.4,717.3 C1262.4,718.2 1255.9,718.7 1248.2,719.6 C1240.5,720.5 1234.9,721.8 1225.0,722.7 C1215.1,723.6 1197.5,724.8 1188.9,725.1 C1180.3,725.4 1179.9,725.1 1173.4,724.3 C1167.0,723.5 1158.0,722.3 1150.2,720.4 C1142.5,718.5 1133.4,715.5 1126.9,712.7 C1120.4,709.9 1116.6,707.3 1111.4,703.4 C1106.2,699.5 1100.4,694.0 1096.0,689.4 C1091.6,684.8 1088.5,680.9 1085.1,675.5 C1081.7,670.1 1078.1,662.6 1075.8,656.9 C1073.5,651.2 1072.0,647.8 1071.2,641.4 C1070.4,635.0 1070.5,625.8 1071.2,618.2 C1071.9,610.6 1073.4,602.7 1075.5,596.0 C1077.6,589.3 1080.4,583.8 1084.0,578.0 C1087.6,572.2 1090.9,568.5 1097.2,561.0 C1103.5,553.5 1112.6,541.4 1121.9,533.1 C1131.2,524.9 1142.6,518.0 1152.9,511.5 C1163.2,505.1 1173.6,499.0 1183.9,494.4 C1194.2,489.8 1204.7,486.6 1214.8,483.6 C1224.9,480.7 1234.1,477.7 1244.4,476.7 Z" fill="none" stroke="#aaee4c" stroke-width="22" filter="url(#hb)" opacity="0.85"/></g>
<g filter="url(#hb6)" opacity="0.6">
<ellipse cx="1280" cy="575" rx="35" ry="22" fill="#0492f4"/>
<ellipse cx="1350" cy="600" rx="25" ry="35" fill="#08a2f4"/>
<ellipse cx="1240" cy="690" rx="40" ry="20" fill="#0aacf8"/>
</g>
</g>

</svg>
<div id="vline"></div>
<div id="hline"></div>
<div class="title" style="left:454.8px;top:7.6px;transform:scaleX(1.05)">radius</div>
<div class="title" style="left:1236.5px;top:8.3px;transform:scaleX(0.83)">FFR</div>
<div class="title" style="left:427.5px;top:407px;transform:scaleX(1.13)">perf. inv. map</div>
<div class="title" style="left:1067.5px;top:411px;transform:scaleX(1.103)">Inferred perfusion, heatmap</div>
<div id="cbar"></div>
<div class="lbl" style="left:354px;top:352.5px">0,00</div>
<div class="lbl" style="left:464px;top:352.5px">0,250</div>
<div class="lbl" style="left:579px;top:339.5px">values</div>
<div class="lbl" style="left:579px;top:352.5px">0,500</div>
<div class="lbl" style="left:692px;top:352.5px">0,750</div>
<div class="lbl" style="left:812px;top:352.5px">1,00</div>
<div id="radio"></div>
<div id="rtext">memory_optim_loss_2_0_step-step=00002000</div>
<div class="bb" style="left:-91px;width:576px"></div>
<div class="bb" style="left:491px;width:576px"></div>
<div class="bb" style="left:1072px;width:576px"></div>
<div class="bt" style="left:161px">Select Dataset</div>
<div class="bt" style="left:743px">Add to ignore</div>
<div class="bt" style="left:1322px">Add to analyze</div>
<div id="topw"></div>
<div id="botw"></div>
</body></html>
